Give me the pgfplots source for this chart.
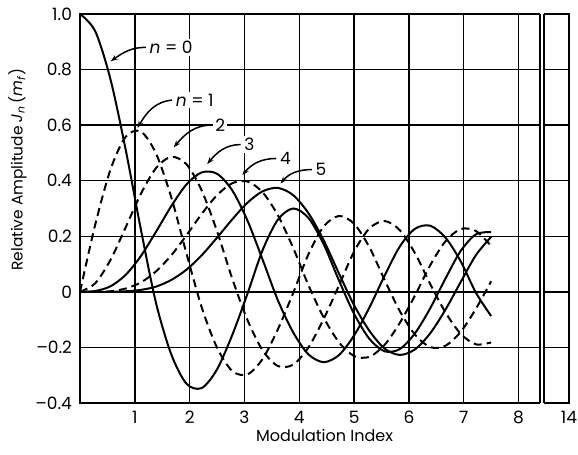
\documentclass[border=0pt]{standalone}
\usepackage{pgfplots}
\pgfplotsset{compat=1.18}
\usepackage{pgfplotstable}
\usepackage{fontspec}
\setmainfont{Poppins}
\usetikzlibrary{arrows.meta}
\pgfplotstableread{
x     j0     j1     j2     j3     j4     j5
0     1.000  0.000  0.000  0.000  0.000  0.000
0.278 0.938  0.242  0.031  0.003  0.000  0.000
0.556 0.765  0.440  0.115  0.020  0.002  0.000
0.833 0.512  0.558  0.232  0.061  0.012  0.002
1.111 0.224  0.577  0.353  0.129  0.034  0.007
1.389 -0.042 0.497  0.446  0.217  0.074  0.019
1.667 -0.226 0.339  0.486  0.309  0.132  0.043
1.944 -0.331 0.137  0.459  0.387  0.204  0.080
2.222 -0.346 -0.057 0.364  0.430  0.281  0.132
2.500 -0.279 -0.201 0.218  0.425  0.348  0.195
2.778 -0.155 -0.285 0.047  0.365  0.391  0.261
3.056 -0.006 -0.297 -0.102 0.256  0.397  0.321
3.333 0.151  -0.241 -0.211 0.115  0.358  0.362
3.611 0.260  -0.134 -0.267 -0.031 0.275  0.374
3.889 0.300  -0.004 -0.262 -0.146 0.158  0.348
4.167 0.266  0.135  -0.200 -0.225 0.024  0.283
4.444 0.172  0.235  -0.098 -0.253 -0.092 0.186
4.722 0.042  0.273  0.022  -0.228 -0.181 0.067
5.000 -0.079 0.245  0.145  -0.157 -0.231 -0.048
5.278 -0.169 0.161  0.228  -0.057 -0.234 -0.140
5.556 -0.214 0.043  0.255  0.058  -0.191 -0.204
5.833 -0.206 -0.069 0.222  0.163  -0.112 -0.227
6.111 -0.149 -0.154 0.139  0.227  -0.013 -0.207
6.389 -0.059 -0.199 0.028  0.238  0.096  -0.149
6.667 0.048  -0.194 -0.074 0.195  0.182  -0.064
6.944 0.147  -0.144 -0.151 0.110  0.226  0.035
7.222 0.207  -0.061 -0.189 -0.003 0.219  0.132
7.500 0.215  0.038  -0.182 -0.087 0.165  0.198
}\besseltable

\begin{document}
\begin{tikzpicture}
\begin{axis}[
  width=244.5pt, height=194.5pt, scale only axis,
  xmin=0, xmax=8.92, ymin=-0.4, ymax=1.0,
  clip=false,
  xtick={1,2,3,4,5,6,7,8,8.92},
  xticklabels={1,2,3,4,5,6,7,8,14},
  ytick={-0.4,-0.2,0,0.2,0.4,0.6,0.8,1.0},
  yticklabels={–0.4,–0.2,0,0.2,0.4,0.6,0.8,1.0},
  grid=major,
  major grid style={black, line width=0.75pt},
  axis line style={black, line width=0.85pt},
  major tick length=0pt,
  tick label style={font=\fontsize{8.5}{10}\selectfont},
  xticklabel style={yshift=-0.5pt},
  yticklabel style={xshift=-0.5pt},
  xlabel={Modulation Index},
  ylabel={Relative Amplitude \textit{J}\textsubscript{\textit{n}}\,(\textit{m}\textsubscript{\textit{f}})},
  every axis x label/.style={at={(axis description cs:0.5,-0.083)}, anchor=center, font=\fontsize{8}{9}\selectfont},
  every axis y label/.style={at={(axis description cs:-0.128,0.6)}, rotate=90, anchor=center, font=\fontsize{7.7}{9}\selectfont},
]
\addplot[black, line width=1pt, smooth, no marks] table[x=x, y=j0] {\besseltable};
\addplot[black, line width=1pt, smooth, no marks, dash pattern=on 4pt off 2.5pt] table[x=x, y=j1] {\besseltable};
\addplot[black, line width=1pt, smooth, no marks, dash pattern=on 4pt off 2.5pt] table[x=x, y=j2] {\besseltable};
\addplot[black, line width=1pt, smooth, no marks] table[x=x, y=j3] {\besseltable};
\addplot[black, line width=1pt, smooth, no marks, dash pattern=on 4pt off 2.5pt] table[x=x, y=j4] {\besseltable};
\addplot[black, line width=1pt, smooth, no marks] table[x=x, y=j5] {\besseltable};

\begin{scope}[font=\fontsize{8.5}{10}\selectfont, line width=0.75pt, black]
\node[anchor=west, inner sep=1pt, fill=white] at (axis cs:1.22,0.88) {\textit{n} = 0};
\draw[-{Stealth[length=3.5pt,width=2.5pt]}] (axis cs:1.20,0.88) to[out=180,in=35] (axis cs:0.56,0.83);
\node[anchor=west, inner sep=1pt, fill=white] at (axis cs:1.70,0.69) {\textit{n} = 1};
\draw[-{Stealth[length=3.5pt,width=2.5pt]}] (axis cs:1.68,0.69) to[out=185,in=60] (axis cs:1.05,0.59);
\node[anchor=west, inner sep=1pt, fill=white] at (axis cs:2.42,0.60) {2};
\draw[-{Stealth[length=3.5pt,width=2.5pt]}] (axis cs:2.40,0.60) to[out=180,in=50] (axis cs:1.71,0.52);
\node[anchor=west, inner sep=1pt, fill=white] at (axis cs:2.95,0.53) {3};
\draw[-{Stealth[length=3.5pt,width=2.5pt]}] (axis cs:2.93,0.53) to[out=180,in=50] (axis cs:2.32,0.46);
\node[anchor=west, inner sep=1pt, fill=white] at (axis cs:3.60,0.48) {4};
\draw[-{Stealth[length=3.5pt,width=2.5pt]}] (axis cs:3.58,0.48) to[out=180,in=50] (axis cs:2.96,0.42);
\node[anchor=west, inner sep=1pt, fill=white] at (axis cs:4.25,0.44) {5};
\draw[-{Stealth[length=3.5pt,width=2.5pt]}] (axis cs:4.23,0.44) to[out=180,in=50] (axis cs:3.66,0.39);
\end{scope}

\coordinate (bA) at (axis cs:8.39,-0.4);
\coordinate (bB) at (axis cs:8.47,1.0);
\coordinate (bC) at (axis cs:8.39,1.0);
\coordinate (bD) at (axis cs:8.47,-0.4);
\end{axis}
\fill[white] ([yshift=-2pt]bA) rectangle ([yshift=2pt]bB);
\draw[line width=0.85pt] (bA) -- (bC);
\draw[line width=0.85pt] (bD) -- (bB);
\pgfresetboundingbox
\path ([shift={(-40pt,-26pt)}]current axis.south west) rectangle ([shift={(4.5pt,7pt)}]current axis.north east);
\end{tikzpicture}
\end{document}
